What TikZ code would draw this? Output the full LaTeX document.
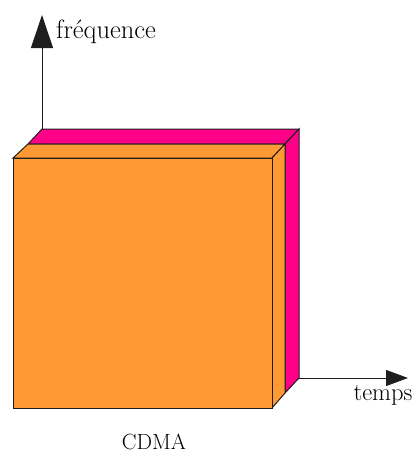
\documentclass[tikz,border=0pt]{standalone}
\usepackage{fontspec}
\setmainfont{Latin Modern Roman}
\usetikzlibrary{arrows.meta}
\definecolor{boxorange}{RGB}{255,153,51}
\definecolor{boxpink}{RGB}{255,0,136}
\definecolor{edgegray}{RGB}{30,30,30}
\begin{document}
\begin{tikzpicture}[x=1pt,y=-1pt,
  face/.style={draw=edgegray,line width=1pt,line join=miter},
  axis/.style={draw=edgegray,line width=1pt},
  lbl/.style={inner sep=0pt,text=black}]
\useasboundingbox (0,0) rectangle (415,455);
% corners
\coordinate (pbl) at (42,129);
\coordinate (pbr) at (299,129);
\coordinate (pbbr) at (299,378);
\coordinate (ptl) at (28,144);
\coordinate (ptr) at (285,144);
\coordinate (pbbr2) at (285,393);
\coordinate (otl) at (13,158);
\coordinate (otr) at (272,158);
\coordinate (obr) at (272,408);
\coordinate (obl) at (13,408);
\coordinate (ytip) at (42,15);
\coordinate (xtip) at (408,378);
% pink slab
\path[face,fill=boxpink] (ptl) -- (pbl) -- (pbr) -- (ptr) -- cycle;
\path[face,fill=boxpink] (ptr) -- (pbr) -- (pbbr) -- (pbbr2) -- cycle;
% orange slab
\path[face,fill=boxorange] (otl) -- (ptl) -- (ptr) -- (otr) -- cycle;
\path[face,fill=boxorange] (otr) -- (ptr) -- (pbbr2) -- (obr) -- cycle;
\path[face,fill=boxorange] (otl) rectangle (obr);
% axes
\draw[axis,-{Triangle[length=33pt,width=22pt]}] (pbl) -- (ytip);
\draw[axis,-{Triangle[length=22pt,width=16pt]}] (pbbr) -- (xtip);
% labels
\node[lbl,anchor=west,font=\fontsize{26.5}{30}\selectfont] (freq) at (56,32) {fréquence};
\node[lbl,font=\fontsize{24.5}{28}\selectfont] (temps) at (383,395) {temps};
\node[lbl,font=\fontsize{22}{25}\selectfont] (cdma) at (154,442) {CDMA};
\end{tikzpicture}
\end{document}
